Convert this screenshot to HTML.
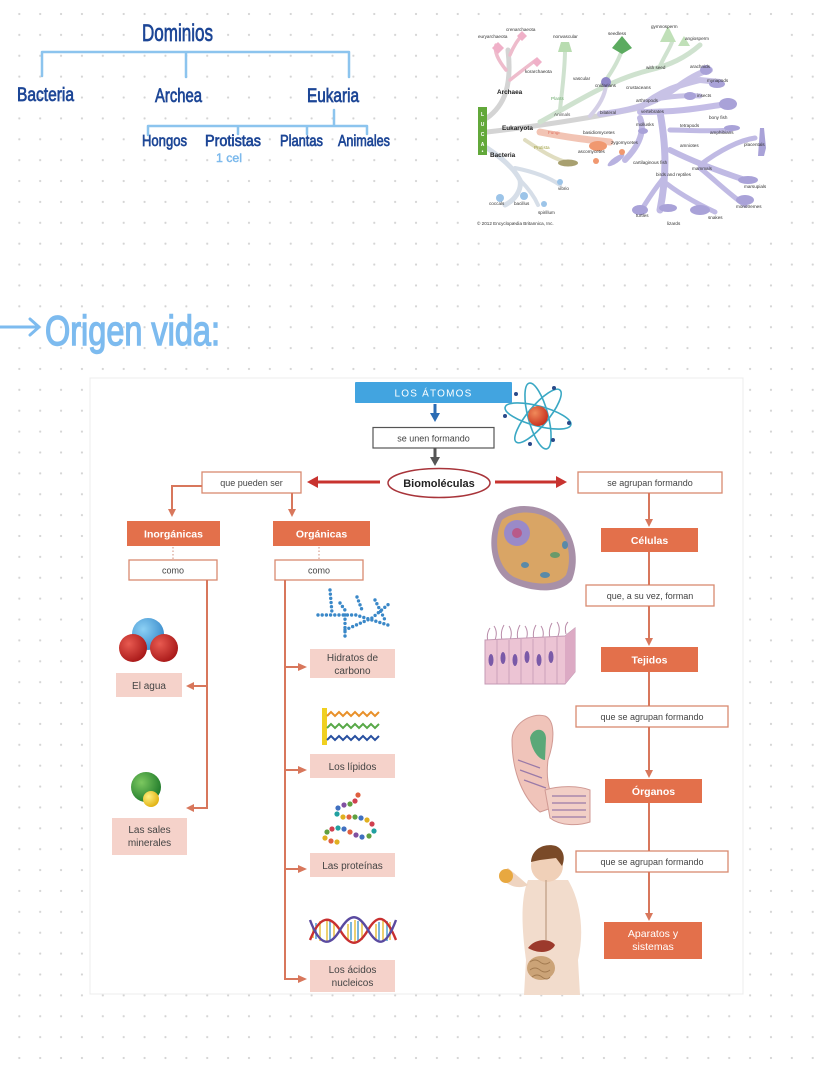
<!DOCTYPE html>
<html><head><meta charset="utf-8"><style>
html,body{margin:0;padding:0;background:#fff;}
svg{display:block;}
text{font-family:"Liberation Sans",sans-serif;}
</style></head><body>
<svg width="828" height="1069" viewBox="0 0 828 1069" xmlns="http://www.w3.org/2000/svg">
<defs>
<pattern id="dots" x="8.86" y="3.56" width="20.88" height="20.88" patternUnits="userSpaceOnUse">
<circle cx="10.44" cy="10.44" r="1.1" fill="#d4d4d4"/>
</pattern>
<radialGradient id="gred" cx="0.35" cy="0.35" r="0.7"><stop offset="0" stop-color="#f08a5a"/><stop offset="1" stop-color="#c8301e"/></radialGradient>
<radialGradient id="gr2" cx="0.35" cy="0.35" r="0.7"><stop offset="0" stop-color="#e85a50"/><stop offset="1" stop-color="#a81818"/></radialGradient>
<radialGradient id="gbl" cx="0.35" cy="0.35" r="0.7"><stop offset="0" stop-color="#8cd0f4"/><stop offset="1" stop-color="#3a8ccc"/></radialGradient>
<radialGradient id="ggr" cx="0.35" cy="0.35" r="0.7"><stop offset="0" stop-color="#7cc860"/><stop offset="1" stop-color="#1f7a2a"/></radialGradient>
<radialGradient id="gye" cx="0.35" cy="0.35" r="0.7"><stop offset="0" stop-color="#fff080"/><stop offset="1" stop-color="#e0b010"/></radialGradient>
</defs>
<rect width="828" height="1069" fill="#fff"/>
<rect width="828" height="1069" fill="url(#dots)"/>

<!-- ===== Dominios handwritten ===== -->
<g fill="#1d4696" stroke="#1d4696" stroke-width="0.7">
<text x="142" y="41" font-size="24" textLength="71" lengthAdjust="spacingAndGlyphs">Dominios</text>
<text x="17" y="101" font-size="19" textLength="57" lengthAdjust="spacingAndGlyphs">Bacteria</text>
<text x="155" y="102" font-size="19" textLength="47" lengthAdjust="spacingAndGlyphs">Archea</text>
<text x="307" y="102" font-size="19" textLength="52" lengthAdjust="spacingAndGlyphs">Eukaria</text>
<text x="142" y="146" font-size="16" textLength="45" lengthAdjust="spacingAndGlyphs">Hongos</text>
<text x="205" y="146" font-size="16" textLength="56" lengthAdjust="spacingAndGlyphs">Protistas</text>
<text x="280" y="146" font-size="16" textLength="43" lengthAdjust="spacingAndGlyphs">Plantas</text>
<text x="338" y="146" font-size="16" textLength="52" lengthAdjust="spacingAndGlyphs">Animales</text>
</g>
<text x="216" y="162" font-size="12" fill="#7ab8ec" stroke="#7ab8ec" stroke-width="0.4" textLength="26" lengthAdjust="spacingAndGlyphs">1 cel</text>
<g stroke="#8cc4ee" stroke-width="2.5" fill="none" stroke-linecap="round">
<path d="M42 52 H349 M42 52 V76 M186 52 V77 M349 52 V77"/>
<path d="M334 110 V126 M148 126 H367 M148 126 V135 M238 126 V134 M307 126 V134 M367 126 V134"/>
</g>

<!-- ===== Tree of life image ===== -->
<rect x="476" y="22" width="304" height="207" fill="#fff"/>
<g fill="none" stroke-linecap="round">
<!-- archaea -->
<path d="M487 118 C505 105 512 85 508 50" stroke="#d4d4d4" stroke-width="5"/>
<path d="M506 70 C498 60 494 52 496 45" stroke="#eebccc" stroke-width="3.5"/>
<path d="M510 55 C514 45 518 40 522 35" stroke="#eebccc" stroke-width="3.5"/>
<path d="M510 80 C520 72 528 66 536 60" stroke="#eebccc" stroke-width="3.5"/>
<!-- eukaryota main -->
<path d="M487 132 C540 126 590 118 640 108" stroke="#d4d4d4" stroke-width="5"/>
<!-- plants -->
<path d="M540 122 C580 100 610 80 650 70 C670 65 685 58 700 45" stroke="#cfe2cf" stroke-width="5"/>
<path d="M560 110 C562 90 565 70 565 50" stroke="#cfe2cf" stroke-width="4"/>
<path d="M600 88 C610 75 618 62 622 50" stroke="#cfe2cf" stroke-width="4"/>
<path d="M660 66 C665 55 670 48 672 42" stroke="#cfe2cf" stroke-width="4"/>
<!-- animals -->
<path d="M590 116 C600 105 605 95 606 85" stroke="#d4cfe6" stroke-width="4"/>
<path d="M600 114 C640 110 660 100 680 85 C690 78 700 72 710 70" stroke="#c8c2e6" stroke-width="6"/>
<path d="M640 108 C660 90 680 85 700 80 L720 82" stroke="#c8c2e6" stroke-width="6"/>
<path d="M650 100 C670 96 690 95 700 96" stroke="#c8c2e6" stroke-width="5"/>
<path d="M640 112 C680 112 700 108 720 105" stroke="#c4bde6" stroke-width="6"/>
<path d="M660 112 C665 140 668 170 660 210" stroke="#c0bae4" stroke-width="7"/>
<path d="M670 150 C700 165 730 175 745 180" stroke="#c0bae4" stroke-width="6"/>
<path d="M700 165 C720 150 740 140 755 138" stroke="#c0bae4" stroke-width="5"/>
<path d="M700 168 C715 180 730 195 745 205" stroke="#c0bae4" stroke-width="5"/>
<path d="M662 180 C650 195 645 205 640 212" stroke="#c0bae4" stroke-width="5"/>
<path d="M662 180 C680 195 700 205 715 212" stroke="#c0bae4" stroke-width="5"/>
<path d="M640 118 C645 130 640 145 625 160" stroke="#c0bae4" stroke-width="6"/>
<path d="M670 130 C690 130 710 132 730 130" stroke="#c0bae4" stroke-width="5"/>
<!-- fungi protista -->
<path d="M540 132 C570 138 590 140 610 142" stroke="#f2c4b4" stroke-width="7"/>
<path d="M525 140 C540 150 555 160 570 163" stroke="#e0ddc0" stroke-width="4"/>
<!-- bacteria -->
<path d="M487 148 C505 160 515 170 520 180 C522 190 515 200 505 205" stroke="#d6dee8" stroke-width="5"/>
<path d="M520 180 C530 190 535 198 538 205" stroke="#d6dee8" stroke-width="4"/>
<path d="M515 168 C535 172 550 178 560 185" stroke="#d6dee8" stroke-width="4"/>
</g>
<g>
<path d="M492 48 l6 -6 l6 6 l-6 6z" fill="#f0b0c8"/>
<path d="M517 36 l5 -5 l5 5 l-5 5z" fill="#f0b0c8"/>
<path d="M532 62 l5 -5 l5 5 l-5 5z" fill="#f0b0c8"/>
<path d="M558 52 h14 l-3 -10 h-8z" fill="#b8dcb0"/>
<path d="M612 48 l10 -12 l10 12 l-10 6z" fill="#5cab60"/>
<path d="M660 42 l8 -16 l8 16z" fill="#c0e0b8"/>
<path d="M678 46 l6 -10 l6 10z" fill="#c0e0b8"/>
<circle cx="606" cy="82" r="5" fill="#8e86c8"/>
<ellipse cx="706" cy="70" rx="6" ry="5" fill="#a9a2d8"/>
<ellipse cx="717" cy="84" rx="8" ry="4" fill="#a9a2d8"/>
<ellipse cx="690" cy="96" rx="6" ry="4" fill="#a9a2d8"/>
<ellipse cx="728" cy="104" rx="9" ry="6" fill="#a9a2d8"/>
<ellipse cx="732" cy="128" rx="8" ry="3" fill="#a9a2d8"/>
<path d="M760 128 l4 0 l2 20 l-2 8 l-6 0 z" fill="#a9a2d8"/>
<ellipse cx="748" cy="180" rx="10" ry="4" fill="#a9a2d8"/>
<ellipse cx="745" cy="200" rx="9" ry="5" fill="#a9a2d8"/>
<ellipse cx="640" cy="210" rx="8" ry="5" fill="#a9a2d8"/>
<ellipse cx="668" cy="208" rx="9" ry="4" fill="#a9a2d8"/>
<ellipse cx="700" cy="210" rx="10" ry="5" fill="#a9a2d8"/>
<ellipse cx="616" cy="160" rx="10" ry="3" fill="#b8b2e0" transform="rotate(-35 616 160)"/>
<ellipse cx="643" cy="131" rx="5" ry="3" fill="#a9a2d8"/>
<ellipse cx="598" cy="146" rx="9" ry="5" fill="#f09870"/>
<ellipse cx="568" cy="163" rx="10" ry="3.5" fill="#a8a070"/>
<circle cx="622" cy="152" r="3" fill="#f09870"/>
<circle cx="596" cy="161" r="3" fill="#f09870"/>
<circle cx="500" cy="198" r="4" fill="#9cc4e8"/>
<circle cx="524" cy="196" r="4" fill="#9cc4e8"/>
<circle cx="544" cy="204" r="3" fill="#9cc4e8"/>
<circle cx="560" cy="182" r="3" fill="#9cc4e8"/>
<rect x="478" y="107" width="9" height="48" fill="#62a83a"/>
</g>
<g font-size="4.6" fill="#333">
<text x="506" y="31">crenarchaeota</text>
<text x="478" y="38">euryarchaeota</text>
<text x="553" y="38">nonvascular</text>
<text x="608" y="35">seedless</text>
<text x="651" y="28">gymnosperm</text>
<text x="685" y="40">angiosperm</text>
<text x="525" y="73">korarchaeota</text>
<text x="646" y="69">with seed</text>
<text x="690" y="68">arachnids</text>
<text x="573" y="80">vascular</text>
<text x="707" y="82">myriapods</text>
<text x="595" y="87">cnidarians</text>
<text x="626" y="89">crustaceans</text>
<text x="697" y="97">insects</text>
<text x="636" y="102">arthropods</text>
<text x="600" y="114">bilateral</text>
<text x="641" y="113">vertebrates</text>
<text x="709" y="119">bony fish</text>
<text x="636" y="126">mollusks</text>
<text x="680" y="127">tetrapods</text>
<text x="710" y="134">amphibians</text>
<text x="583" y="134">basidiomycetes</text>
<text x="611" y="144">zygomycetes</text>
<text x="744" y="146">placentals</text>
<text x="578" y="153">ascomycetes</text>
<text x="680" y="147">amniotes</text>
<text x="633" y="164">cartilaginous fish</text>
<text x="692" y="170">mammals</text>
<text x="656" y="176">birds and reptiles</text>
<text x="558" y="190">vibrio</text>
<text x="744" y="188">marsupials</text>
<text x="736" y="208">monotremes</text>
<text x="489" y="205">coccals</text>
<text x="514" y="205">bacillus</text>
<text x="538" y="214">spirillum</text>
<text x="636" y="217">turtles</text>
<text x="708" y="219">snakes</text>
<text x="667" y="225">lizards</text>
<text x="477" y="225">© 2012 Encyclopædia Britannica, Inc.</text>
<text x="551" y="100" fill="#6aa86a">Plants</text>
<text x="554" y="116" fill="#555">Animals</text>
<text x="548" y="134" fill="#e07060">Fungi</text>
<text x="534" y="149" fill="#a0a040">Protista</text>
</g>
<g font-size="6.4" font-weight="bold" fill="#222">
<text x="497" y="94">Archaea</text>
<text x="502" y="130">Eukaryota</text>
<text x="490" y="157">Bacteria</text>
</g>
<g font-size="5" fill="#fff" font-weight="bold" text-anchor="middle">
<text x="482.5" y="116">L</text><text x="482.5" y="126">U</text><text x="482.5" y="136">C</text><text x="482.5" y="146">A</text><text x="482.5" y="153">•</text>
</g>

<!-- ===== Origen vida ===== -->
<g stroke="#7dbbef" stroke-width="3" fill="none" stroke-linecap="round" stroke-linejoin="round">
<path d="M0 327 H38 M30 319 L39 327 L30 335"/>
</g>
<text x="45" y="345" font-size="42" fill="#7dbbef" stroke="#7dbbef" stroke-width="1.4" textLength="175" lengthAdjust="spacingAndGlyphs">Origen vida:</text>

<!-- ===== Main diagram panel ===== -->
<rect x="90" y="378" width="653" height="616" fill="#fff" stroke="#ececec" stroke-width="1"/>

<!-- LOS ÁTOMOS -->
<rect x="355" y="382" width="157" height="21" fill="#42a4e0" rx="1"/>
<text x="433.5" y="396.5" font-size="10" fill="#fff" text-anchor="middle" letter-spacing="1.2">LOS ÁTOMOS</text>
<path d="M435 404 V414" stroke="#2b6cb4" stroke-width="3"/>
<path d="M430 413 L440 413 L435 422 Z" fill="#2b6cb4"/>
<rect x="373" y="427.5" width="121" height="20.5" fill="#fff" stroke="#555" stroke-width="1.2"/>
<text x="433.5" y="441.5" font-size="9" fill="#444" text-anchor="middle">se unen formando</text>
<path d="M435 448 V458" stroke="#555" stroke-width="3"/>
<path d="M430 457 L440 457 L435 466 Z" fill="#555"/>
<ellipse cx="439" cy="483" rx="51" ry="14.5" fill="#fff" stroke="#a8343a" stroke-width="1.5"/>
<text x="439" y="487" font-size="11" font-weight="bold" fill="#222" text-anchor="middle">Biomoléculas</text>
<!-- red arrows -->
<path d="M380 482 H316" stroke="#c8332f" stroke-width="3"/>
<path d="M318 476 L307 482 L318 488 Z" fill="#c8332f"/>
<path d="M495 482 H558" stroke="#c8332f" stroke-width="3"/>
<path d="M556 476 L567 482 L556 488 Z" fill="#c8332f"/>

<!-- left branch -->
<g stroke="#d8775c" stroke-width="2" fill="none">
<rect x="202" y="472" width="99" height="21" fill="#fff" stroke="#d88a70" stroke-width="1.3"/>
<path d="M202 486 H172 V510"/>
<path d="M292 493 V510"/>
</g>
<g fill="#d8775c">
<path d="M168 509 L176 509 L172 517 Z"/>
<path d="M288 509 L296 509 L292 517 Z"/>
</g>
<text x="251.5" y="486" font-size="9" fill="#444" text-anchor="middle">que pueden ser</text>

<rect x="127" y="521" width="93" height="25" fill="#e3704b"/>
<text x="173.5" y="537.5" font-size="10.5" fill="#fff" font-weight="bold" text-anchor="middle">Inorgánicas</text>
<rect x="273" y="521" width="97" height="25" fill="#e3704b"/>
<text x="321.5" y="537.5" font-size="10.5" fill="#fff" font-weight="bold" text-anchor="middle">Orgánicas</text>
<path d="M173 547 V560 M319 547 V560" stroke="#d8a090" stroke-width="1.2" stroke-dasharray="1.5 2"/>
<rect x="129" y="560" width="88" height="20" fill="#fff" stroke="#d88a70" stroke-width="1.3"/>
<text x="173" y="573.5" font-size="9" fill="#444" text-anchor="middle">como</text>
<rect x="275" y="560" width="88" height="20" fill="#fff" stroke="#d88a70" stroke-width="1.3"/>
<text x="319" y="573.5" font-size="9" fill="#444" text-anchor="middle">como</text>

<g stroke="#d8775c" stroke-width="2" fill="none">
<path d="M207 580 V808 H193"/>
<path d="M207 686 H193"/>
<path d="M285 580 V979 H299"/>
<path d="M285 667 H299 M285 770 H299 M285 869 H299"/>
</g>
<g fill="#d8775c">
<path d="M194 682 L186 686 L194 690 Z"/>
<path d="M194 804 L186 808 L194 812 Z"/>
<path d="M298 663 L307 667 L298 671 Z"/>
<path d="M298 766 L307 770 L298 774 Z"/>
<path d="M298 865 L307 869 L298 873 Z"/>
<path d="M298 975 L307 979 L298 983 Z"/>
</g>

<!-- pink boxes -->
<g fill="#f5d2ca">
<rect x="116" y="673" width="66" height="24"/>
<rect x="112" y="818" width="75" height="37"/>
<rect x="310" y="649" width="85" height="29"/>
<rect x="310" y="754" width="85" height="24"/>
<rect x="310" y="853" width="85" height="24"/>
<rect x="310" y="960" width="85" height="32"/>
</g>
<g font-size="10" fill="#444" text-anchor="middle">
<text x="149" y="689">El agua</text>
<text x="149.5" y="833">Las sales</text>
<text x="149.5" y="846">minerales</text>
<text x="352.5" y="661">Hidratos de</text>
<text x="352.5" y="674">carbono</text>
<text x="352.5" y="770">Los lípidos</text>
<text x="352.5" y="869">Las proteínas</text>
<text x="352.5" y="973">Los ácidos</text>
<text x="352.5" y="986">nucleicos</text>
</g>

<!-- water molecule -->
<circle cx="148" cy="634" r="16" fill="url(#gbl)"/>
<circle cx="133" cy="648" r="14" fill="url(#gr2)"/>
<circle cx="164" cy="648" r="14" fill="url(#gr2)"/>
<!-- salt -->
<circle cx="146" cy="787" r="15" fill="url(#ggr)"/>
<circle cx="151" cy="799" r="8" fill="url(#gye)"/>
<!-- carbohydrate -->
<g fill="none" stroke="#3a88c8" stroke-width="3.4" stroke-linecap="round" stroke-dasharray="0 4.2">
<path d="M330 590 L332 613 M318 615 L356 615 L388 625 M345 615 L345 640 M340 603 L347 613 M345 630 L372 618 L390 603 M375 600 L385 620 M357 597 L362 610"/>
</g>
<!-- lipids -->
<rect x="322" y="708" width="5" height="37" fill="#f0d020"/>
<g fill="none" stroke-width="2">
<path d="M327 716 l4 -4 l4 4 l4 -4 l4 4 l4 -4 l4 4 l4 -4 l4 4 l4 -4 l4 4 l4 -4 l4 4 l4 -4" stroke="#e8902a"/>
<path d="M327 728 l4 -4 l4 4 l4 -4 l4 4 l4 -4 l4 4 l4 -4 l4 4 l4 -4 l4 4 l4 -4 l4 4 l4 -4" stroke="#58a848"/>
<path d="M327 740 l4 -4 l4 4 l4 -4 l4 4 l4 -4 l4 4 l4 -4 l4 4 l4 -4 l4 4 l4 -4 l4 4 l4 -4" stroke="#2850a0"/>
</g>
<!-- proteins -->
<g>
<circle cx="358" cy="795" r="2.6" fill="#e06040"/><circle cx="355" cy="801" r="2.6" fill="#d04050"/>
<circle cx="350" cy="804" r="2.6" fill="#60a040"/><circle cx="344" cy="805" r="2.6" fill="#8050a0"/>
<circle cx="338" cy="808" r="2.6" fill="#4070c0"/><circle cx="337" cy="814" r="2.6" fill="#20a0a0"/>
<circle cx="343" cy="817" r="2.6" fill="#e0b020"/><circle cx="349" cy="817" r="2.6" fill="#e06040"/>
<circle cx="355" cy="817" r="2.6" fill="#60a040"/><circle cx="361" cy="818" r="2.6" fill="#4070c0"/>
<circle cx="367" cy="820" r="2.6" fill="#e0b020"/><circle cx="372" cy="824" r="2.6" fill="#d04050"/>
<circle cx="374" cy="831" r="2.6" fill="#20a0a0"/><circle cx="369" cy="836" r="2.6" fill="#60a040"/>
<circle cx="362" cy="837" r="2.6" fill="#4070c0"/><circle cx="356" cy="835" r="2.6" fill="#8050a0"/>
<circle cx="350" cy="832" r="2.6" fill="#e06040"/><circle cx="344" cy="829" r="2.6" fill="#4070c0"/>
<circle cx="338" cy="828" r="2.6" fill="#20a0a0"/><circle cx="332" cy="829" r="2.6" fill="#d04050"/>
<circle cx="327" cy="832" r="2.6" fill="#60a040"/><circle cx="325" cy="838" r="2.6" fill="#e0b020"/>
<circle cx="331" cy="841" r="2.6" fill="#e06040"/><circle cx="337" cy="842" r="2.6" fill="#e0b020"/>
</g>
<!-- DNA -->
<g stroke-width="1.5">
<path d="M313 926 l0 12 M320 921 l0 20 M327 920 l0 22 M334 924 l0 15 M348 924 l0 15 M355 920 l0 22 M362 922 l0 18 M376 924 l0 15 M383 920 l0 22 M390 922 l0 18" stroke="#e8c040"/>
<path d="M316 923 l0 16 M330 921 l0 20 M351 922 l0 18 M358 921 l0 20 M379 922 l0 18 M387 921 l0 20" stroke="#50a0d0"/>
</g>
<g fill="none" stroke-width="2.4">
<path d="M310 940 C320 915 330 915 340 930 C350 947 358 947 368 930 C378 913 386 915 396 940" stroke="#c83030"/>
<path d="M310 920 C320 947 330 947 340 930 C350 913 358 913 368 930 C378 947 386 947 396 920" stroke="#5a4aa0"/>
</g>

<!-- right column -->
<rect x="578" y="472" width="144" height="21" fill="#fff" stroke="#d88a70" stroke-width="1.3"/>
<text x="650" y="486" font-size="9" fill="#444" text-anchor="middle">se agrupan formando</text>
<rect x="586" y="585" width="128" height="21" fill="#fff" stroke="#d88a70" stroke-width="1.3"/>
<text x="650" y="599" font-size="9" fill="#444" text-anchor="middle">que, a su vez, forman</text>
<rect x="576" y="706" width="152" height="21" fill="#fff" stroke="#d88a70" stroke-width="1.3"/>
<text x="652" y="720" font-size="9" fill="#444" text-anchor="middle">que se agrupan formando</text>
<rect x="576" y="851" width="152" height="21" fill="#fff" stroke="#d88a70" stroke-width="1.3"/>
<text x="652" y="865" font-size="9" fill="#444" text-anchor="middle">que se agrupan formando</text>
<g stroke="#d8775c" stroke-width="2" fill="none">
<path d="M649 493 V520 M649 552 V585 M649 606 V639 M649 672 V706 M649 727 V771 M649 803 V851 M649 872 V914"/>
</g>
<g fill="#d8775c">
<path d="M645 519 L653 519 L649 527 Z"/>
<path d="M645 638 L653 638 L649 646 Z"/>
<path d="M645 770 L653 770 L649 778 Z"/>
<path d="M645 913 L653 913 L649 921 Z"/>
</g>
<rect x="601" y="528" width="97" height="24" fill="#e3704b"/>
<text x="649.5" y="544" font-size="10.5" fill="#fff" font-weight="bold" text-anchor="middle">Células</text>
<rect x="601" y="647" width="97" height="25" fill="#e3704b"/>
<text x="649.5" y="663.5" font-size="10.5" fill="#fff" font-weight="bold" text-anchor="middle">Tejidos</text>
<rect x="605" y="779" width="97" height="24" fill="#e3704b"/>
<text x="653.5" y="795" font-size="10.5" fill="#fff" font-weight="bold" text-anchor="middle">Órganos</text>
<rect x="604" y="922" width="98" height="37" fill="#e3704b"/>
<text x="653" y="937" font-size="10.5" fill="#fff" text-anchor="middle">Aparatos y</text>
<text x="653" y="950" font-size="10.5" fill="#fff" text-anchor="middle">sistemas</text>

<!-- atom -->
<g fill="none" stroke="#3aa8c4" stroke-width="1.6">
<ellipse cx="538" cy="416" rx="34" ry="10" transform="rotate(15 538 416)"/>
<ellipse cx="538" cy="416" rx="34" ry="10" transform="rotate(75 538 416)"/>
<ellipse cx="538" cy="416" rx="34" ry="10" transform="rotate(-50 538 416)"/>
</g>
<circle cx="538" cy="416" r="10" fill="url(#gred)"/>
<g fill="#2a4a8a">
<circle cx="505" cy="416" r="2"/><circle cx="569" cy="423" r="2"/><circle cx="554" cy="388" r="2"/>
<circle cx="530" cy="444" r="2"/><circle cx="516" cy="394" r="2"/><circle cx="553" cy="440" r="2"/>
</g>

<!-- cell -->
<path d="M498 515 C515 500 545 505 560 520 C575 535 580 560 572 580 C560 595 530 592 510 582 C492 572 485 540 498 515 Z" fill="#a890a8"/>
<path d="M502 520 C518 508 543 511 556 524 C569 538 572 560 566 575 C556 587 532 585 514 577 C498 568 492 542 502 520 Z" fill="#d9a565"/>
<circle cx="517" cy="533" r="13" fill="#9a8ac8"/>
<circle cx="517" cy="533" r="5" fill="#b85a8a"/>
<ellipse cx="555" cy="555" rx="5" ry="3" fill="#6a9a6a"/>
<ellipse cx="545" cy="575" rx="5" ry="3" fill="#5a8aa8"/>
<ellipse cx="525" cy="565" rx="4" ry="3" fill="#5a8aa8"/>
<ellipse cx="565" cy="545" rx="3" ry="4" fill="#5a8aa8"/>

<!-- tissue -->
<g fill="none" stroke="#b88aa8" stroke-width="1">
<path d="M488 642 q-2 -8 2 -14 M495 640 q3 -8 -1 -14 M502 640 q-2 -8 2 -15 M510 640 q3 -8 -1 -14 M518 640 q-2 -8 2 -15 M526 640 q3 -8 -1 -14 M534 640 q-2 -8 2 -15 M542 640 q3 -8 -1 -14 M550 638 q-2 -8 2 -15 M558 636 q3 -8 -1 -14 M566 634 q-2 -8 2 -12"/>
</g>
<path d="M485 640 L565 636 L575 628 L575 672 L565 684 L485 684 Z" fill="#ecc4d4" stroke="#c49ab4" stroke-width="1"/>
<path d="M565 636 L575 628 L575 672 L565 684 Z" fill="#dcaac4"/>
<g stroke="#c49ab4" stroke-width="0.8"><path d="M497 640 V684 M509 640 V684 M521 639 V684 M533 639 V684 M545 638 V684 M557 637 V684"/></g>
<g fill="#7a5aa8">
<ellipse cx="491" cy="660" rx="2.5" ry="6"/><ellipse cx="503" cy="658" rx="2.5" ry="6"/><ellipse cx="515" cy="660" rx="2.5" ry="6"/>
<ellipse cx="527" cy="657" rx="2.5" ry="6"/><ellipse cx="539" cy="660" rx="2.5" ry="6"/><ellipse cx="551" cy="657" rx="2.5" ry="6"/>
</g>

<!-- organ -->
<path d="M512 740 C512 725 530 712 545 716 C555 720 555 740 548 760 C545 785 552 800 560 805 L540 812 C525 800 512 775 512 740 Z" fill="#f0c4ba" stroke="#d09a94" stroke-width="1"/>
<path d="M530 738 C532 728 545 726 546 738 L545 760 C540 760 532 752 530 738 Z" fill="#5aa878"/>
<path d="M545 790 C560 785 580 786 590 790 L590 822 C578 826 560 826 550 818 Z" fill="#f2cfc6" stroke="#d09a94" stroke-width="1"/>
<g stroke="#9a7aa8" stroke-width="1.2" fill="none">
<path d="M552 796 H586 M552 803 H586 M552 810 H586 M552 817 H586"/>
<path d="M518 760 L540 768 M520 770 L542 778 M524 780 L546 788"/>
</g>

<!-- boy -->
<path d="M528 880 C520 900 522 930 526 960 L524 995 L580 995 L578 960 C585 930 580 900 568 880 Z" fill="#f2dccc"/>
<path d="M528 885 C518 890 508 885 503 880 L500 873 L508 868 L520 878 Z" fill="#efd4c0"/>
<circle cx="547" cy="866" r="16" fill="#f0d0b8"/>
<path d="M531 862 C532 848 545 843 556 846 C565 850 565 860 562 866 L556 858 L540 860 Z" fill="#7a4a28"/>
<circle cx="506" cy="876" r="7" fill="#e8a840"/>
<path d="M528 948 C535 938 550 938 555 945 C552 952 540 955 528 948 Z" fill="#9c3a2c"/>
<ellipse cx="541" cy="968" rx="14" ry="12" fill="#cba377"/>
<g stroke="#a27a50" stroke-width="1" fill="none"><path d="M530 962 q5 -4 10 0 q5 4 10 0 M530 970 q5 -4 10 0 q5 4 10 0 M532 977 q5 -4 10 0 q5 4 8 0"/></g>
<path d="M546 880 V940" stroke="#c8a890" stroke-width="1.5"/>
</svg>
</body></html>
